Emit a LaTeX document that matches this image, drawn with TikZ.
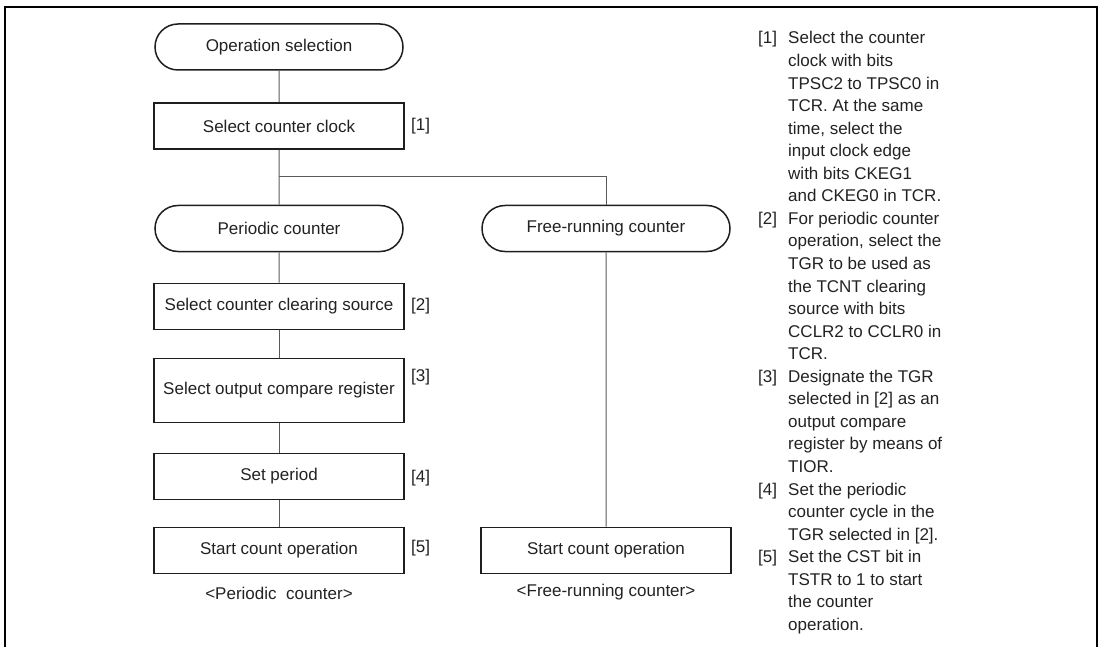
\documentclass[tikz,border=0pt]{standalone}
\usepackage{fontspec}
\setmainfont{Liberation Sans}
\usetikzlibrary{shapes.misc}
\definecolor{txt}{HTML}{222222}
\definecolor{edge}{HTML}{1E1E1E}
\definecolor{conn}{HTML}{5A5A5A}
\begin{document}
\begin{tikzpicture}[x=1pt,y=-1pt,
  every node/.style={font=\fontsize{17}{20}\selectfont, text=txt, inner sep=0pt},
  stepbox/.style={draw=edge, line width=1.7pt, fill=white, rectangle, minimum width=250pt, minimum height=46pt},
  pill/.style={draw=edge, line width=1.5pt, fill=white, rounded rectangle, minimum width=248pt, minimum height=46pt},
  link/.style={draw=conn, line width=1pt},
  tag/.style={anchor=west},
  desc/.style={anchor=base west}
]
\useasboundingbox (0,0) rectangle (1100,647);
% frame
\draw[line width=2.4pt, black] (5,647) -- (5,7) -- (1097,7) -- (1097,647);

% left column
\node[pill] (op) at (279,47) {Operation selection};
\node[stepbox] (clk) at (279,126) {Select counter clock};
\node[pill] (pc) at (279,228.5) {Periodic counter};
\node[stepbox] (ccs) at (279,306.5) {Select counter clearing source};
\node[stepbox, minimum height=64pt] (ocr) at (279,390.5) {Select output compare register};
\node[stepbox] (sp) at (279,476.5) {Set period};
\node[stepbox] (sc1) at (279,550.5) {Start count operation};
\node (cap1) at (279,593) {<Periodic~\ counter>};

% right column
\node[pill] (fr) at (606,228.5) {Free-running counter};
\node[stepbox] (sc2) at (606,550.5) {Start count operation};
\node (cap2) at (606,592) {<Free-running counter>};

% step tags
\node[tag] (t1) at (411,126) {[1]};
\node[tag] (t2) at (411,306.5) {[2]};
\node[tag] (t3) at (411,377) {[3]};
\node[tag] (t4) at (411,478) {[4]};
\node[tag] (t5) at (411,548.5) {[5]};

% connectors
\coordinate (j) at (279,177);
\draw[link] (op) -- (clk);
\draw[link] (clk) -- (pc);
\draw[link] (j) -| (fr);
\draw[link] (pc) -- (ccs);
\draw[link] (ccs) -- (ocr);
\draw[link] (ocr) -- (sp);
\draw[link] (sp) -- (sc1);
\draw[link] (fr) -- (sc2);

% description text
\foreach \t [count=\i from 0] in {
  {Select the counter},
  {clock with bits},
  {TPSC2 to TPSC0 in},
  {TCR. At the same},
  {time, select the},
  {input clock edge},
  {with bits CKEG1},
  {and CKEG0 in TCR.},
  {For periodic counter},
  {operation, select the},
  {TGR to be used as},
  {the TCNT clearing},
  {source with bits},
  {CCLR2 to CCLR0 in},
  {TCR.},
  {Designate the TGR},
  {selected in [2] as an},
  {output compare},
  {register by means of},
  {TIOR.},
  {Set the periodic},
  {counter cycle in the},
  {TGR selected in [2].},
  {Set the CST bit in},
  {TSTR to 1 to start},
  {the counter},
  {operation.}}
  \node[desc] (l\i) at (788,44+22.55*\i) {\t};
\foreach \n/\k in {1/0,2/8,3/15,4/20,5/23}
  \node[desc] (n\n) at (758,44+22.55*\k) {[\n]};
\end{tikzpicture}
\end{document}
